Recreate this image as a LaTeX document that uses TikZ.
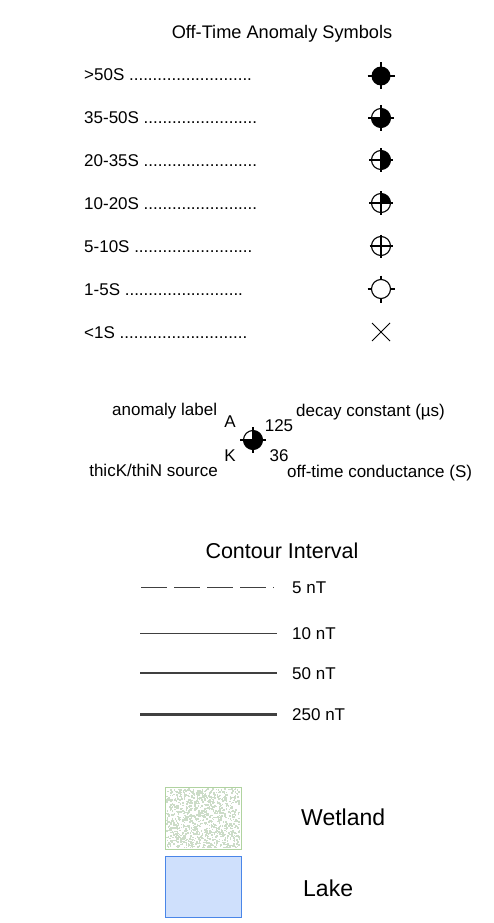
\documentclass[tikz,border=0pt]{standalone}
\usepackage{fontspec}
\setmainfont{Liberation Sans}
\definecolor{linegray}{HTML}{404040}
\definecolor{wetborder}{HTML}{B0D3A0}
\definecolor{wetspeck}{HTML}{CCDCC8}
\definecolor{lakefill}{HTML}{CFE0FC}
\definecolor{lakeborder}{HTML}{4A86E8}
\tikzset{
  lbl/.style={font=\fontsize{17}{20}\selectfont, inner sep=0pt},
  bigl/.style={font=\fontsize{21.5}{24}\selectfont, inner sep=0pt},
  legl/.style={font=\fontsize{23}{26}\selectfont, inner sep=0pt},
  symline/.style={line width=1.1pt, black},
  pics/symfull/.style={code={
    \fill (0,0) circle (9.5);
    \draw[symline] (-13.5,0) -- (13.5,0) (0,-13.5) -- (0,13.5);}},
  pics/symthree/.style={code={
    \fill (0,0) -- (-90:9.5) arc[start angle=-90, end angle=180, radius=9.5] -- cycle;
    \draw[symline] (0,0) circle (9.5);
    \draw[symline] (-13,0) -- (13,0) (0,-13) -- (0,13);}},
  pics/symhalf/.style={code={
    \fill (0,0) -- (-90:9.5) arc[start angle=-90, end angle=90, radius=9.5] -- cycle;
    \draw[symline] (0,0) circle (9.5);
    \draw[symline] (-12,0) -- (12,0) (0,-12) -- (0,12);}},
  pics/symquarter/.style={code={
    \fill (0,0) -- (-90:9.5) arc[start angle=-90, end angle=0, radius=9.5] -- cycle;
    \draw[symline] (0,0) circle (9.5);
    \draw[symline] (-12,0) -- (12,0) (0,-12) -- (0,12);}},
  pics/symcross/.style={code={
    \draw[symline] (0,0) circle (9.5);
    \draw[symline] (-11.5,0) -- (11.5,0) (0,-11.5) -- (0,11.5);}},
  pics/symempty/.style={code={
    \draw[symline] (0,0) circle (9.5);
    \draw[symline] (-13.5,0) -- (-9.5,0) (9.5,0) -- (13.5,0) (0,-13.5) -- (0,-9.5) (0,9.5) -- (0,13.5);}},
  pics/symx/.style={code={
    \draw[line width=1pt] (-9,-9) -- (9,9) (-9,9) -- (9,-9);}},
  cline/.style={linegray},
}
\begin{document}
\begin{tikzpicture}[x=1pt,y=-1pt]
\useasboundingbox[fill=white] (0,0) rectangle (493,923);

% title
\node[lbl, font=\fontsize{18.2}{21}\selectfont, anchor=base] (title) at (282,39) {Off-Time Anomaly Symbols};

% rows
\node[lbl, anchor=base west] (r1) at (84,81) {>50S ..........................};
\node[lbl, anchor=base west] (r2) at (84,124) {35-50S ........................};
\node[lbl, anchor=base west] (r3) at (84,166) {20-35S ........................};
\node[lbl, anchor=base west] (r4) at (84,209) {10-20S ........................};
\node[lbl, anchor=base west] (r5) at (84,252) {5-10S .........................};
\node[lbl, anchor=base west] (r6) at (84,295) {1-5S .........................};
\node[lbl, anchor=base west] (r7) at (84,338) {<1S ...........................};

\pic at (381,76) {symfull};
\pic at (381,118) {symthree};
\pic at (381,160) {symhalf};
\pic at (381,203) {symquarter};
\pic at (381,246) {symcross};
\pic at (381,289) {symempty};
\pic at (381,332) {symx};

% example
\pic at (253,440) {symthree};
\node[lbl, anchor=base west] (ela) at (112,415) {anomaly label};
\node[lbl, anchor=base] (eA) at (230,427) {A};
\node[lbl, anchor=base] (e125) at (279,431) {125};
\node[lbl, anchor=base west] (edc) at (296,416) {decay constant (µs)};
\node[lbl, anchor=base] (eK) at (230,461) {K};
\node[lbl, anchor=base] (e36) at (279,461) {36};
\node[lbl, anchor=base east] (ets) at (218,476) {thicK/thiN source};
\node[lbl, anchor=base west] (eoc) at (287,477) {off-time conductance (S)};

% contour interval
\node[bigl, anchor=base] (ci) at (282,558) {Contour Interval};
\draw[cline, line width=0.8pt, dash pattern=on 26pt off 7pt] (141,587) -- (274,587);
\node[lbl, anchor=base west] (c5) at (292,593) {5 nT};
\draw[cline, line width=1pt] (140,633) -- (277,633);
\node[lbl, anchor=base west] (c10) at (292,639) {10 nT};
\draw[cline, line width=2pt] (140,673) -- (277,673);
\node[lbl, anchor=base west] (c50) at (292,679) {50 nT};
\draw[cline, line width=3pt] (140,714) -- (277,714);
\node[lbl, anchor=base west] (c250) at (292,720) {250 nT};

% wetland
\fill[white] (165,787) rectangle (241,849);
\pgfmathsetseed{7}
\foreach \i in {1,...,1100} {
  \pgfmathsetmacro\rx{166+73*rnd}
  \pgfmathsetmacro\ry{788+59*rnd}
  \fill[wetspeck] (\rx,\ry) rectangle ++(1.5,1.5);
}
\draw[wetborder, line width=1pt] (165,787) rectangle (241,849);
\node[legl, anchor=base west] (wl) at (301,825) {Wetland};

% lake
\draw[lakeborder, fill=lakefill, line width=1pt] (165,856) rectangle (241,917);
\node[legl, anchor=base west] (lk) at (303,896) {Lake};
\end{tikzpicture}
\end{document}
